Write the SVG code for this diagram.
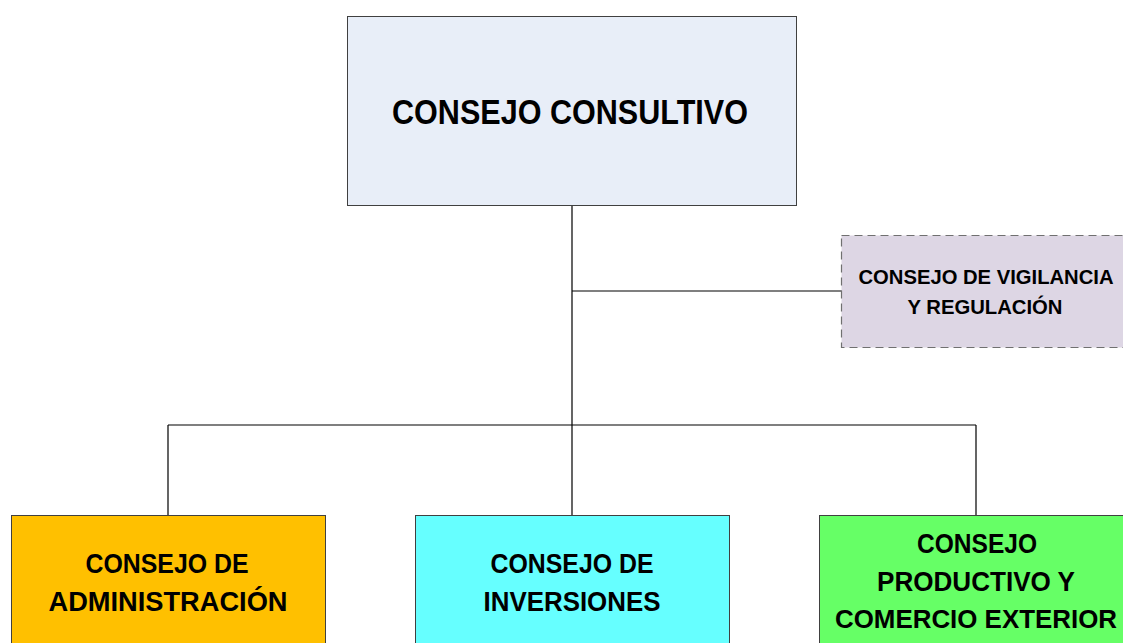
<svg xmlns="http://www.w3.org/2000/svg" width="1123" height="643" viewBox="0 0 1123 643">
<style>
.box{stroke:#404040;stroke-width:1}
.t{font-family:"Liberation Sans",Arial,sans-serif;font-weight:bold;fill:#000;text-anchor:middle}
.c{stroke:#000;stroke-width:1.2;fill:none}
</style>
<rect width="1123" height="643" fill="#fff"/>
<g id="connectors">
<path class="c" d="M572 205V425M572 291H842M168 425H976M168 425V515M572 425V515M976 425V515"/>
</g>
<g id="consultivo">
<rect class="box" x="347.5" y="16.5" width="449" height="189" fill="#E8EEF8"/>
<text class="t" x="570" y="124" font-size="35" textLength="356" lengthAdjust="spacingAndGlyphs">CONSEJO CONSULTIVO</text>
</g>
<g id="vigilancia">
<rect x="841.5" y="235.5" width="290" height="112" fill="#DDD6E4" stroke="#707070" stroke-width="1.2" stroke-dasharray="8,5"/>
<text class="t" x="986" y="284" font-size="21" textLength="255" lengthAdjust="spacingAndGlyphs">CONSEJO DE VIGILANCIA</text>
<text class="t" x="985" y="314" font-size="21" textLength="155" lengthAdjust="spacingAndGlyphs">Y REGULACIÓN</text>
</g>
<g id="administracion">
<rect class="box" x="11.5" y="515.5" width="314" height="140" fill="#FFC000"/>
<text class="t" x="167" y="573" font-size="27" textLength="163" lengthAdjust="spacingAndGlyphs">CONSEJO DE</text>
<text class="t" x="168" y="611" font-size="27" textLength="239" lengthAdjust="spacingAndGlyphs">ADMINISTRACIÓN</text>
</g>
<g id="inversiones">
<rect class="box" x="415.5" y="515.5" width="314" height="140" fill="#66FFFF"/>
<text class="t" x="572" y="573" font-size="27" textLength="163" lengthAdjust="spacingAndGlyphs">CONSEJO DE</text>
<text class="t" x="572" y="611" font-size="27" textLength="177" lengthAdjust="spacingAndGlyphs">INVERSIONES</text>
</g>
<g id="productivo">
<rect class="box" x="819.5" y="515.5" width="314" height="140" fill="#66FF66"/>
<text class="t" x="977" y="553" font-size="27" textLength="120" lengthAdjust="spacingAndGlyphs">CONSEJO</text>
<text class="t" x="976" y="591" font-size="27" textLength="198" lengthAdjust="spacingAndGlyphs">PRODUCTIVO Y</text>
<text class="t" x="976" y="628" font-size="26" textLength="282" lengthAdjust="spacingAndGlyphs">COMERCIO EXTERIOR</text>
</g>
</svg>
